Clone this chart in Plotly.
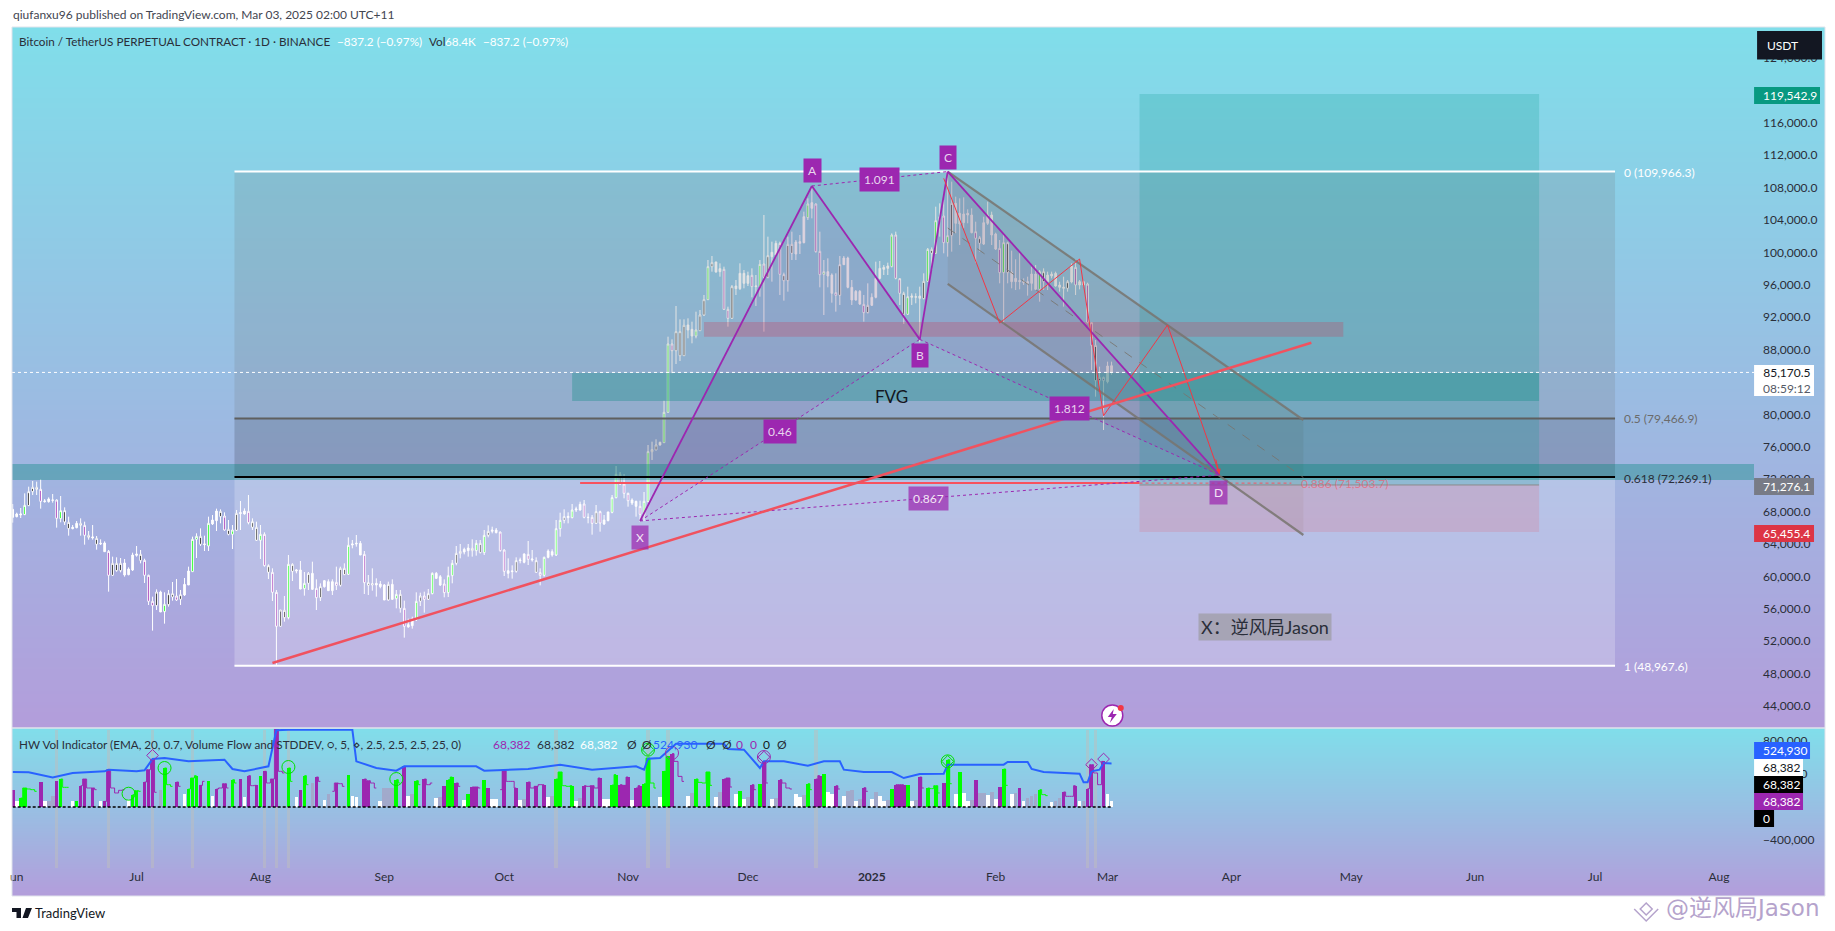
import pandas as pd
import plotly.graph_objects as go

# page is drawn with the browser's 8px body margin, so the figure is a bit smaller than the window
W = 1819
H = 915
FONT = "Lato"

# daily candles, May 31 2024 -> Mar 2 2025
candle_high = [68927,
    67857,68433,70244,71067,71766,71684,71972,69544,69750,70161,69503,69914,68515,67363,66334,66828,67157,66746,65594,66334,64976,64565,64318,63248,62425,62343,62260,62137,61108,62919,
    63742,63248,62178,60203,57487,58392,58227,58022,58310,59298,59668,58310,59791,61191,64894,65306,65923,65017,67363,67569,68351,68268,67898,66951,66334,68186,69297,68392,70038,67157,66746,
    66334,65429,61479,60985,58310,55841,57569,62631,61602,60861,61890,60532,60532,61807,59626,59132,59544,59626,59626,61190,61190,61601,64811,64482,65099,64358,63124,60161,60984,59749,59420,
    59050,59338,59626,58309,58309,56992,54771,55017,58022,57980,58104,58433,60490,60531,60161,59626,61190,62013,63741,63988,63535,63988,64564,64482,64482,65716,66293,66128,65963,65511,
    63330,62219,61354,62342,62301,62836,64358,63247,62342,60984,62425,63330,63330,66951,67856,68268,67897,68926,68597,69214,69420,67774,67568,68803,68103,67568,67980,70037,73617,72877,72630,
    70325,69626,69338,69338,70408,76211,76623,76911,76623,81685,89585,89256,93371,91725,91725,91848,91437,92672,92877,94729,99050,99544,98844,98638,98227,93289,95964,96581,98638,97815,
    97610,98021,97198,99050,104605,101930,101313,101437,101313,97486,101930,102548,101519,102136,105017,106663,108185,106046,102548,99050,99256,97404,97404,99544,99544,99462,96581,95346,95346,94729,96169,
    94935,98844,98926,98432,98721,102342,102548,96787,95141,95758,94935,94935,95757,97403,100531,100613,105633,106045,106456,109831,108720,106868,106662,106786,105304,105428,103782,102012,104399,106251,105016,
    102424,101518,102341,101313,100202,99132,99996,96786,96992,98226,98432,97815,98021,97609,97609,97609,96375,96992,96580,98638,99132,96580,96498,96251,91354,89173,85881,84647,
    86498,86498]
candle_top = [68268,
    67692,67692,68762,70449,70984,70984,70737,69297,69544,69421,69421,68104,68104,66663,66046,66540,66540,66293,65059,64853,64688,64071,64112,63083,61602,61602,61602,61643,60902,62631,
    62754,62713,61972,60121,56911,58063,58063,56541,57857,57857,57569,57734,59009,60656,64565,64935,64935,63989,66540,66951,68063,68021,67445,65799,65717,67774,67857,68063,68021,66746,66046,
    65182,65182,61314,60491,58022,55841,55800,61479,61479,60779,60779,59133,60368,60367,58515,58721,59462,59338,59338,59256,60984,60984,63824,63988,64070,64070,62713,59215,59091,59132,59050,
    58927,59009,59009,57775,57775,56046,54030,54729,56911,57569,57569,57857,60367,60367,59955,59050,60079,61601,62836,63083,63330,63494,63453,64070,64070,65058,65552,65716,65716,65470,
    63247,60696,60655,61931,62013,62754,62713,62136,61931,60449,62342,63124,63042,65881,66910,67363,67404,68185,68309,68885,68926,67280,67280,67980,67980,66951,67939,69708,72589,72589,71395,
    70243,69420,69255,68638,69255,75389,75636,76211,76541,80245,88680,88680,90203,90203,90985,91026,90491,90409,92260,94153,98227,98721,98803,97980,97898,92960,95758,95840,97404,97404,
    97116,97157,95840,98515,98556,99585,100000,101108,101108,97240,100984,100984,101272,101313,104400,105963,106128,105963,100120,97610,97610,97198,95017,98474,99297,99297,95676,95182,95182,93577,93454,
    94441,96787,98021,98144,98309,102136,102136,96746,94935,94523,94606,94523,94605,96416,100366,100366,103905,104399,104481,102053,106045,106045,104810,104728,104810,104605,102547,101807,103658,104605,104605,
    102259,100490,101189,101189,97568,96786,96498,96375,96375,97321,97321,97609,97609,97198,97321,97403,95963,95675,96375,98309,98144,96375,96375,96087,91313,88515,84565,84565,
    85963,86000]
candle_bottom = [67281,
    67363,67569,67610,68721,70449,70737,69256,69215,69215,69379,67157,67116,66705,65882,65882,66005,66293,65059,64812,64729,63948,63989,63042,60121,60121,60697,60697,60162,60203,60779,
    62589,61931,60121,56911,56376,56376,55594,55635,56499,57446,57075,57158,57693,58927,60573,64565,63948,63906,63742,66458,66869,67363,65717,65182,65182,65676,67733,67692,66622,66046,64441,
    64441,61314,60491,58022,53825,53825,54895,54895,60614,60655,58433,58475,59133,58392,57363,57363,58721,58227,58227,58885,58885,60202,60243,63865,63988,62630,59215,58885,58927,58927,58721,
    57075,57075,57157,57240,56046,53824,53742,53906,54606,56911,57157,57157,57857,59749,58927,57980,57980,60079,61601,62795,63000,63165,63165,63165,62918,62918,65058,65552,65387,63165,
    60614,60367,60573,60614,61931,61725,62095,62013,60490,60120,60120,62342,62630,62630,65881,66910,67239,67239,68185,68185,67280,67239,66539,66539,66581,66457,66869,67897,69708,71395,70243,
    69338,69050,68638,67650,67568,69216,75389,75594,76211,76500,80245,87857,87857,87240,87240,90409,89668,89668,90326,92260,94153,98227,97569,97610,92960,91848,91848,95511,95511,96169,
    96169,95758,95758,95758,96910,96910,99462,99667,97281,96499,96499,99873,99791,101108,101190,104276,105428,100079,97239,97280,97075,94935,94688,94688,98474,95676,94112,94112,93618,92548,92548,
    93454,94441,96787,97898,98021,98227,96787,94935,92342,92342,94441,94441,94317,94276,96416,99872,99872,103905,101189,101189,102053,103576,103493,103658,104605,102424,101724,101107,101025,103576,102136,
    100408,97486,97486,97486,96375,96375,96375,96251,96169,96169,95428,95428,96375,96375,97074,95840,95675,95552,95552,96333,95963,95963,95963,91313,88515,84153,84153,84153,
    84029,85170]
candle_low = [66622,
    67281,67198,67569,68680,70038,70038,68351,69091,69091,69091,66005,66663,66334,65017,65799,65923,65017,63906,64524,64524,63289,63865,63001,58104,60038,60573,60491,59956,60121,60655,
    62425,61602,59174,56458,53290,55841,55594,54154,56252,56993,56952,56458,57569,58927,60573,62260,63742,63124,63124,66334,65594,66540,65635,65059,63371,65594,65717,67610,66416,65717,64359,
    62137,61191,59668,56952,49051,53783,54400,54689,59421,60368,58392,57610,58310,58310,55840,56951,58598,58186,57692,58310,58721,60161,60161,63453,63659,62630,57816,57692,58227,57486,58515,
    57075,56992,57075,56046,55511,52425,53660,53536,54482,56334,55511,57075,57775,59667,58803,57404,57445,59132,61354,62219,62713,62425,62425,62548,62836,62630,64811,65305,65305,63042,
    60038,59749,59709,60449,61601,61601,61396,61807,60449,58885,59955,62219,62425,62507,64893,66539,66539,67157,67939,68103,67157,66539,65140,66457,65511,66334,66786,67774,69626,71272,69626,
    68597,68803,67363,66745,66828,69175,74360,75594,76129,76500,80203,85059,86211,86582,87199,89380,88762,89380,90326,92137,94112,97610,97486,96992,92877,90820,91766,94729,95347,95552,
    95840,94441,93371,94523,90203,96787,96375,99379,94729,94030,95141,99050,99050,99791,101108,103988,104194,99955,95676,92260,95676,93783,92672,93495,98433,95552,93495,94030,93495,91437,92466,
    93371,94318,96663,97198,97198,98144,96663,93495,91149,92260,93495,93700,88885,94194,96334,97815,99790,101930,99872,99461,100078,102341,100901,102959,103576,102341,98720,100078,100901,103370,100901,
    100284,96169,91149,96169,95552,95346,95428,95963,94646,95263,95346,93906,95346,95346,96786,95757,95140,93288,95140,96169,94728,95428,95757,91231,85470,82178,82672,78063,
    83824,84894]
# body colour per day: W white, G green, P purple, K black
candle_kind = ("W"
    "WWGKKKPWWWPGKKWWKPKWKWWPKKKWWW"
    "WKPPPKWGKKPKWWGGKWGWWKPKGKWWPKK"
    "GPKPPKKGKWWGKWPKWWWPKKGWWWPKKWW"
    "WKWGKPWWGKPKGWWPGGKKWWKGKGKWWP"
    "PWWKWWPWKPGWWGGKWGWWPWPKPWWGGKP"
    "PWWPGGKKWGGPKKKWWGKKGKWWPPKWWW"
    "WPWGPKWWPKKKWWWGWPPGWWPKWWWWWPK"
    "WWWWWGPPKGWWWKGKGKPGKWWWWWPKWWW"
    "WPGKWWWWWWWGKWWWWWKWPWWPPKKP"
    "WW")

# HW Vol Indicator, thousands, same days as the candles
volume_k = [209,
    68,108,229,217,209,189,301,76,76,129,317,337,237,237,76,76,257,337,229,229,209,68,68,450,229,169,201,209,88,149,
    197,189,301,450,570,177,209,470,269,249,301,249,161,217,349,378,261,309,317,137,217,229,281,229,329,289,337,120,378,257,261,
    378,430,289,337,940,430,410,470,309,120,209,378,269,289,361,309,88,161,189,289,281,249,390,137,120,209,337,317,289,229,76,
    229,229,229,329,289,490,137,161,317,269,337,269,289,108,120,257,329,361,289,249,88,161,241,241,229,329,229,96,96,209,
    438,309,309,229,88,96,301,229,249,269,269,120,129,337,422,257,249,257,76,108,257,249,257,229,349,96,96,265,390,269,261,
    361,88,229,257,281,590,289,229,120,430,610,643,550,369,309,137,169,337,297,289,422,261,120,177,337,349,241,161,197,100,
    120,269,209,281,550,289,100,108,329,289,229,217,161,116,149,281,209,337,378,402,177,161,257,217,137,197,205,76,96,233,189,
    100,181,137,76,88,221,269,269,269,269,76,88,361,229,229,221,257,169,289,570,281,161,422,169,76,88,329,169,169,149,177,
    96,241,458,261,161,169,229,76,108,129,161,209,149,137,56,68,108,181,129,129,257,76,68,221,510,410,269,550,
    161,68]
# G green, P purple, W white, A grey, - step line only
volume_kind = ("P"
    "WGG---PWAAPG--WGPP-P-WPP----WG"
    "G-PPP-AG--P-WGGGP-GWP-P-G-PWP-P"
    "GP-PP--G-WPG-AP-WA-P--GWW-PP--W"
    "AAAG-PWAG-P--WAPGGP-WGPP-GPWW-"
    "P--PWAP-P-PWAGG--GWAP-P-PWWGGPP"
    "PWPPGG--WGGP---WAG--G-WAPP-WGW"
    "AP-GP-WAP---WWAG-PPGWWP-WAAWAP-"
    "WAWWAGPPPGWAP-G-G-PG-WGWWAPAAWA"
    "WPG-WAPWAAAG--WAAP--PWAPP--P"
    "WW")

band_dates = ["2024-05-31","2024-06-04","2024-06-10","2024-06-15","2024-06-23","2024-06-24","2024-07-01","2024-07-03","2024-07-05","2024-07-08","2024-07-14","2024-07-23","2024-07-25","2024-07-28","2024-08-03","2024-08-05","2024-08-08","2024-08-24","2024-08-25","2024-08-30","2024-09-04","2024-09-06","2024-09-24","2024-09-26","2024-10-07","2024-10-15","2024-10-23","2024-10-30","2024-11-03","2024-11-05","2024-11-06","2024-11-09","2024-11-13","2024-11-25","2024-11-26","2024-11-30","2024-12-04","2024-12-05","2024-12-10","2024-12-16","2024-12-20","2024-12-24","2024-12-25","2024-12-30","2025-01-06","2025-01-09","2025-01-13","2025-01-19","2025-01-20","2025-02-03","2025-02-04","2025-02-09","2025-02-10","2025-02-13","2025-02-22","2025-02-23","2025-02-24","2025-02-25","2025-02-27","2025-02-28","2025-03-02"]
band_k = [422,418,357,410,430,450,430,442,578,590,550,570,458,430,490,924,932,932,550,470,438,490,490,438,458,510,450,470,490,450,582,590,763,763,699,691,470,550,550,498,550,550,450,422,422,349,398,402,510,510,542,542,458,422,402,297,297,430,450,530,525]

spike_dates = ["2024-06-11","2024-06-24","2024-07-05","2024-07-15","2024-08-02","2024-08-05","2024-08-08","2024-10-14","2024-11-06","2024-11-11","2024-12-18","2025-02-24","2025-02-26"]
circle_dates = ["2024-06-29","2024-07-08","2024-08-08","2024-09-04","2024-11-06","2025-01-20"]
circle_k = [160,470,482,337,691,550]
ring_dates = ["2024-11-12","2024-12-05"]
ring_k = [651,602]
diamond_dates = ["2024-07-05","2024-12-05","2025-02-25","2025-02-28"]
diamond_k = [622,602,510,578]
green_diamond_dates = ["2024-11-06","2025-01-20"]
green_diamond_k = [691,550]

# fib retracement
fib_start = "2024-07-25 12:00"
fib_end = "2025-07-06"
fib_levels = [109966.3, 79466.9, 72269.1, 48967.6]
fib_colors = ["#ffffff", "#5f5f5f", "#000000", "#ffffff"]
fib_fills = ["rgba(110,110,110,0.18)", "rgba(40,40,50,0.2)", "rgba(255,255,255,0.22)"]

# long position box
long_start = "2025-03-09"
long_end = "2025-06-17"
long_target = 119542.9
long_entry = 71276.1
long_stop = 65455.4

# harmonic pattern X A B C D
pattern_dates = ["2024-11-04", "2024-12-17", "2025-01-13", "2025-01-20", "2025-03-29"]
pattern_prices = [66835, 108185, 89250, 109966, 72500]

# channel: upper, lower and mid edges
channel_dates = ["2025-01-20", "2025-04-19"]
channel_upper = [109966, 79296]
channel_lower = [96100, 65099]
channel_mid = [103000, 72198]

trend_dates = ["2024-08-04", "2025-04-21"]
trend_prices = [49296, 88840]

zigzag_dates = ["2025-01-19", "2025-02-02", "2025-02-22", "2025-02-28", "2025-03-16", "2025-03-29"]
zigzag_prices = [109131, 91272, 99172, 79827, 91023, 72628]

last_price = 85170.5
price_ticks = list(range(44000, 128000, 4000))
volume_ticks = [800000, 400000, 0, -400000]
volume_tick_text = ["800,000", "400,000", "0", "−400,000"]
month_ticks = ["2024-06-01","2024-07-01","2024-08-01","2024-09-01","2024-10-01","2024-11-01","2024-12-01","2025-01-01","2025-02-01","2025-03-01","2025-04-01","2025-05-01","2025-06-01","2025-07-01","2025-08-01"]
month_text = ["un","Jul","Aug","Sep","Oct","Nov","Dec","<b>2025</b>","Feb","Mar","Apr","May","Jun","Jul","Aug"]


def fx(px):
    return (px - 8) / W


def fy(py):
    return 1 - (py - 8) / H


days = pd.date_range("2024-05-31", periods=len(candle_high)).strftime("%Y-%m-%d").tolist()

fig = go.Figure()

# the two gradient panels
for xa, ya in [("x", "y"), ("x2", "y2")]:
    fig.add_trace(go.Heatmap(x=[0, 1], y=[0, 1], z=[[0, 0], [1, 1]], xaxis=xa, yaxis=ya, zsmooth="best", showscale=False,
                             colorscale=[[0, "#B39DDB"], [1, "#80DEEA"]], hoverinfo="skip"))

body_colors = {"W": "#ffffff", "G": "#00FF00", "P": "#9C27B0", "K": "#000000"}
for kind, color in body_colors.items():
    idx = [i for i, k in enumerate(candle_kind) if k == kind]
    fig.add_trace(go.Candlestick(
        x=[days[i] for i in idx],
        open=[candle_bottom[i] for i in idx],
        high=[candle_high[i] for i in idx],
        low=[candle_low[i] for i in idx],
        close=[candle_top[i] for i in idx],
        increasing=dict(fillcolor=color, line=dict(color="#ffffff", width=1)),
        decreasing=dict(fillcolor=color, line=dict(color="#ffffff", width=1)),
        whiskerwidth=0, xaxis="x3", yaxis="y3"))

px_, py_ = pattern_dates, pattern_prices
PURPLE = "#9C27B0"
# harmonic triangles
for a, b, c in [(0, 1, 2), (2, 3, 4)]:
    fig.add_trace(go.Scatter(x=[px_[a], px_[b], px_[c], px_[a]], y=[py_[a], py_[b], py_[c], py_[a]], mode="none", fill="toself",
                             fillcolor="rgba(156,39,176,0.1)", xaxis="x3", yaxis="y3"))
# channel fill
fig.add_trace(go.Scatter(x=channel_dates + channel_dates[::-1], y=channel_upper + channel_lower[::-1], mode="none", fill="toself",
                         fillcolor="rgba(120,120,120,0.16)", xaxis="x3", yaxis="y3"))

# indicator: grey spike columns, bars, step line, band, signals
fig.add_trace(go.Bar(x=spike_dates, y=[1665000] * len(spike_dates), base=-735000, width=86400000 * 0.85,
                     marker=dict(color="rgba(190,190,190,0.5)", line_width=0), xaxis="x4", yaxis="y4"))
bar_colors = {"G": "#00FF00", "P": "#9C27B0", "W": "#ffffff", "A": "rgba(165,160,195,0.75)"}
for kind, color in bar_colors.items():
    idx = [i for i, k in enumerate(volume_kind) if k == kind]
    fig.add_trace(go.Bar(x=[days[i] for i in idx], y=[volume_k[i] * 1000 for i in idx], width=86400000 * 0.92,
                         marker=dict(color=color, line_width=0), xaxis="x4", yaxis="y4"))

flow = {"G": [], "P": []}
last = "P"
for i, k in enumerate(volume_kind):
    if k in "GP":
        last = k
    on = k in "GP-"
    flow["G"].append(volume_k[i] * 1000 if on and last == "G" else None)
    flow["P"].append(volume_k[i] * 1000 if on and last == "P" else None)
for kind in flow:
    fig.add_trace(go.Scatter(x=days, y=flow[kind], mode="lines", line=dict(color=bar_colors[kind], width=1, shape="hvh"), xaxis="x4", yaxis="y4"))

fig.add_trace(go.Scatter(x=[days[0], days[-1]], y=[0, 0], mode="lines", line=dict(color="#000000", width=1.5, dash="3px,2px"), xaxis="x4", yaxis="y4"))
fig.add_trace(go.Scatter(x=band_dates, y=[v * 1000 for v in band_k], mode="lines", line=dict(color="#2962FF", width=2), xaxis="x4", yaxis="y4"))
for dates, vals, symbol, color, size in [
    (circle_dates, circle_k, "circle-open", "#00E000", 13),
    (ring_dates, ring_k, "circle-open", PURPLE, 13),
    (diamond_dates, diamond_k, "diamond-open", PURPLE, 9),
    (green_diamond_dates, green_diamond_k, "diamond-open", "#00E000", 9),
]:
    fig.add_trace(go.Scatter(x=dates, y=[v * 1000 for v in vals], mode="markers",
                             marker=dict(symbol=symbol, size=size, color=color, line=dict(color=color, width=1)), xaxis="x4", yaxis="y4"))

shapes = []


def price_rect(x0, x1, y0, y1, fill):
    shapes.append(dict(type="rect", xref="x3", yref="y3", x0=x0, x1=x1, y0=y0, y1=y1, fillcolor=fill, line_width=0, layer="above"))


def price_line(x0, x1, y0, y1, color, width=1, dash="solid"):
    shapes.append(dict(type="line", xref="x3", yref="y3", x0=x0, x1=x1, y0=y0, y1=y1, line=dict(color=color, width=width, dash=dash), layer="above"))


# fib zones
for i in range(3):
    price_rect(fib_start, fib_end, fib_levels[i], fib_levels[i + 1], fib_fills[i])

price_rect(long_start, long_end, long_entry, long_target, "rgba(0,150,136,0.2)")
price_rect(long_start, long_end, long_stop, long_entry, "rgba(242,54,69,0.14)")
price_line(long_start, long_end, long_entry, long_entry, "#8a8a8a")

# FVG band, supply band, lower teal band
price_rect("2024-10-18", "2025-06-17", 81642, 85099, "rgba(0,137,123,0.3)")
price_rect("2024-11-20", "2025-04-29", 89580, 91395, "rgba(200,60,90,0.28)")
price_rect("2024-05-30 19:48", "2025-08-09 19:12", 71889, 73864, "rgba(0,137,123,0.36)")

# fib lines go over the zones
for level, color in zip(fib_levels, fib_colors):
    price_line(fib_start, fib_end, level, level, color, 2)

# 0.886 level: solid up to the position box, then thin dotted
price_line("2024-10-20", long_start, 71503.7, 71503.7, "#F7525F", 2)
price_line(long_start, "2025-04-16", 71503.7, 71503.7, "#F7525F", 1, "dot")
# last price
price_line("2024-05-30 19:48", "2025-08-09 19:12", last_price, last_price, "#ffffff", 1, "dot")

# channel edges
for ys, wd, dash in [(channel_upper, 2.2, "solid"), (channel_lower, 2.2, "solid"), (channel_mid, 1, "dash")]:
    price_line(channel_dates[0], channel_dates[1], ys[0], ys[1], "rgba(120,116,110,0.85)", wd, dash)
# pattern legs and their dotted links
for i in range(4):
    price_line(px_[i], px_[i + 1], py_[i], py_[i + 1], PURPLE, 1.8)
for a, b in [(0, 2), (1, 3), (2, 4), (0, 4)]:
    price_line(px_[a], px_[b], py_[a], py_[b], PURPLE, 1, "dot")
for i in range(len(zigzag_dates) - 1):
    price_line(zigzag_dates[i], zigzag_dates[i + 1], zigzag_prices[i], zigzag_prices[i + 1], "#F23645", 1)
price_line(trend_dates[0], trend_dates[1], trend_prices[0], trend_prices[1], "#F0525F", 2.5)

notes = []


def note(x, y, text, color="#2a2e39", size=12, anchor="left", bg=None, pad=0, family=None):
    notes.append(dict(xref="paper", yref="paper", x=fx(x), y=fy(y), text=text, showarrow=False, xanchor=anchor, yanchor="middle",
                      font=dict(family=family or (FONT + ", Noto Sans CJK SC"), size=size, color=color), bgcolor=bg, borderpad=pad))


def tag(x0, x1, y0, y1, text, bg, color="#ffffff", tx=None):
    shapes.append(dict(type="rect", xref="paper", yref="paper", x0=fx(x0), x1=fx(x1), y0=fy(y0), y1=fy(y1), fillcolor=bg, line_width=0, layer="above"))
    note(x0 + 8 if tx is None else tx, (y0 + y1) / 2, text, color)


# header texts
note(10, 14.5, "qiufanxu96 published on TradingView.com, Mar 03, 2025 02:00 UTC+11", "#434651")
note(16, 41, "Bitcoin / TetherUS PERPETUAL CONTRACT · 1D · BINANCE", size=11.7)
note(334, 41, "−837.2 (−0.97%)", "#ffffff", 11.7)
note(426, 41, "Vol", size=11.7)
note(442, 41, "68.4K", "#ffffff", 11.7)
note(481, 41, "−837.2 (−0.97%)", "#ffffff", 11.7)

# fib and drawing labels
note(1623, 172, "0 (109,966.3)", "#ffffff")
note(1623, 419, "0.5 (79,466.9)", "#6b6b6b")
note(1623, 478, "0.618 (72,269.1)", "#2a2e39")
note(1623, 666, "1 (48,967.6)", "#ffffff")
note(1299, 483, "0.886 (71,503.7)", "rgba(247,82,95,0.6)")
note(890, 396, "FVG", "#131722", 17, "center")
note(1264.5, 627, "X：逆风局Jason", "#2a2e39", 18, "center", "rgba(150,150,150,0.6)", 2)

LABEL_BG = "#9C27B0"
for x, y, text in [(811, 171, "A"), (919, 356, "B"), (946.7, 157, "C"), (878.6, 179, "1.091"), (778.7, 431, "0.46"), (1069, 409, "1.812")]:
    note(x, y, text, "#E8D5EE", 12, "center", LABEL_BG, 4)
for x, y, text in [(639, 537, "X"), (1218.3, 492, "D"), (928, 499, "0.867")]:
    note(x, y, text, "#F3E5F5", 12, "center", "rgba(156,39,176,0.72)", 4)

# arrow head at the end of the projected path
notes.append(dict(xref="x3", yref="y3", x=zigzag_dates[-1], y=zigzag_prices[-1], text="", showarrow=True, arrowhead=2, arrowwidth=1,
                  arrowcolor="#F23645", axref="pixel", ayref="pixel", ax=-4, ay=-16))

# price scale tags
tag(1757, 1822, 31, 59.5, "USDT", "#131722", tx=1766)
tag(1754, 1820, 87, 104, "119,542.9", "#089981")
tag(1754, 1814, 365, 396, "85,170.5<br><span style='color:#555a66'>08:59:12</span>", "#ffffff", "#131722")
tag(1754, 1814, 478, 495, "71,276.1", "#787B86")
tag(1754, 1814, 525, 542, "65,455.4", "#DD3545")
tag(1754, 1810, 742, 759, "524,930", "#2962FF")
tag(1754, 1803, 759, 776, "68,382", "#ffffff", "#131722")
tag(1754, 1803, 776, 793, "68,382", "#000000")
tag(1754, 1803, 793, 810, "68,382", "#9C27B0")
tag(1754, 1774, 810, 827, "0", "#000000")

# indicator legend
note(16, 744, "HW Vol Indicator (EMA, 20, 0.7, Volume Flow and STDDEV, ○, 5, ⋄, 2.5, 2.5, 2.5, 25, 0)", size=11.7)
note(491, 744, "68,382", "#9C27B0")
note(535, 744, "68,382")
note(578, 744, "68,382", "#ffffff")
for x in [624.6, 640, 704, 720, 775]:
    note(x, 744, "Ø")
note(651, 744, "524,930", "#2962FF")
note(734, 744, "0", "#9C27B0")
note(747.4, 744, "0", "#9C27B0")
note(760.8, 744, "0", "#131722")

# footer
note(32, 913, "TradingView", "#131722", 13)
note(1665, 908, "@逆风局Jason", "#B5A3CC", 23, family="DejaVu Sans, Noto Sans CJK SC")
shapes.append(dict(type="path", xref="paper", yref="paper", fillcolor="#131722", line_width=0, layer="above",
                   path=f"M {fx(10)} {fy(908)} L {fx(19)} {fy(908)} L {fx(19)} {fy(918)} L {fx(14.5)} {fy(918)} L {fx(14.5)} {fy(912)} L {fx(10)} {fy(912)} Z "
                        f"M {fx(24)} {fy(908)} L {fx(30)} {fy(908)} L {fx(26)} {fy(918)} L {fx(20.5)} {fy(918)} Z"))
shapes.append(dict(type="path", xref="paper", yref="paper", line=dict(color="#B5A3CC", width=1.5), layer="above",
                   path=f"M {fx(1634)} {fy(909)} L {fx(1646)} {fy(921)} L {fx(1658)} {fy(909)} M {fx(1640)} {fy(909)} L {fx(1646)} {fy(903)} L {fx(1652)} {fy(909)} L {fx(1646)} {fy(915)} Z"))

# alert icon
shapes.append(dict(type="circle", xref="paper", yref="paper", x0=fx(1101), x1=fx(1122), y0=fy(705), y1=fy(726), fillcolor="#ffffff", line=dict(color=PURPLE, width=1.5), layer="above"))
shapes.append(dict(type="path", xref="paper", yref="paper", fillcolor=PURPLE, line_width=0, layer="above",
                   path=f"M {fx(1113)} {fy(709)} L {fx(1107)} {fy(717)} L {fx(1111)} {fy(717)} L {fx(1109)} {fy(723)} L {fx(1116)} {fy(714)} L {fx(1112)} {fy(714)} Z"))
shapes.append(dict(type="circle", xref="paper", yref="paper", x0=fx(1117), x1=fx(1123), y0=fy(705), y1=fy(711), fillcolor="#F23645", line_width=0, layer="above"))

# panel frames
for y0, y1 in [(27, 728), (728, 896)]:
    shapes.append(dict(type="rect", xref="paper", yref="paper", x0=fx(10), x1=fx(1825), y0=fy(y0), y1=fy(y1), line=dict(color="#E0E3EB", width=1), fillcolor="rgba(0,0,0,0)", layer="above"))

hidden = dict(visible=False, fixedrange=True, range=[0, 1])
x_range = ["2024-05-30 19:48", "2025-08-09 19:12"]

fig.update_layout(
    width=W, height=H, margin=dict(l=0, r=0, t=0, b=0, pad=0), autosize=False,
    paper_bgcolor="#ffffff", plot_bgcolor="rgba(0,0,0,0)", showlegend=False, barmode="overlay", bargap=0, boxgap=0.4,
    font=dict(family=FONT, size=12, color="#2a2e39"),
    shapes=shapes, annotations=notes,
    xaxis=dict(hidden, domain=[fx(10), fx(1825)], anchor="y"),
    yaxis=dict(hidden, domain=[fy(728), fy(27)], anchor="x"),
    xaxis2=dict(hidden, domain=[fx(10), fx(1825)], anchor="y2"),
    yaxis2=dict(hidden, domain=[fy(896), fy(728)], anchor="x2"),
    xaxis3=dict(domain=[fx(10), fx(1754)], anchor="y3", type="date", range=x_range, showticklabels=False, showgrid=False, zeroline=False, rangeslider=dict(visible=False), ticks=""),
    yaxis3=dict(domain=[fy(728), fy(27)], anchor="x3", side="right", range=[41272, 127815], tickvals=price_ticks, tickformat=",.1f", showgrid=False, zeroline=False, ticks="", ticklabelstandoff=8, tickfont=dict(color="#2a2e39", size=12)),
    xaxis4=dict(domain=[fx(10), fx(1754)], anchor="y4", type="date", range=x_range, tickvals=month_ticks, ticktext=month_text, showgrid=False, zeroline=False, ticks="", tickfont=dict(color="#2a2e39", size=12)),
    yaxis4=dict(domain=[fy(868), fy(729)], anchor="x4", side="right", range=[-735000, 940000], tickvals=volume_ticks, ticktext=volume_tick_text, showgrid=False, zeroline=False, ticks="", ticklabelstandoff=8, tickfont=dict(color="#2a2e39", size=12)),
)

fig.write_html("out.html")
